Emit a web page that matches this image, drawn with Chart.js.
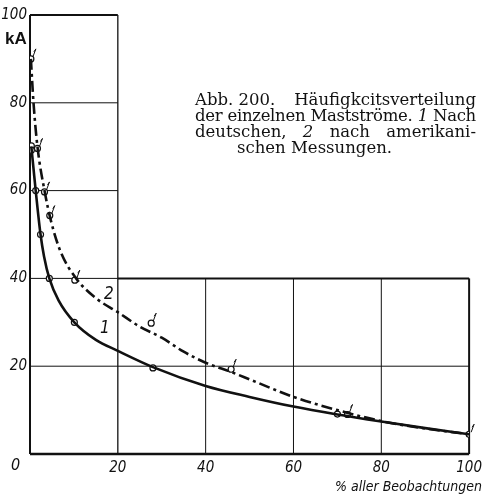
<!DOCTYPE html>
<html lang="de">
<head>
<meta charset="UTF-8">
<script src="https://cdn.jsdelivr.net/npm/chart.js"></script>
<style>
  body { margin:0; background:#fff; }
  #wrap { position:relative; width:487px; height:499px; }
  #wrap canvas { position:absolute; left:0; top:0; }
  .lbl { position:absolute; color:#111; white-space:nowrap; }
  .narrow { font-family:'Liberation Sans Narrow','DejaVu Sans Condensed','Liberation Sans',sans-serif; font-style:italic; }
  .cap { position:absolute; left:195px; width:281px; font:16.5px 'DejaVu Serif',serif; color:#111; line-height:16px; white-space:nowrap; }
  .row { display:flex; justify-content:space-between; }
</style>
</head>
<body>
<div id="wrap">
  <canvas id="c" width="487" height="499"></canvas>
  <div class="lbl" style="left:5px;top:29px;font:bold 17px 'Liberation Sans',sans-serif;">kA</div>
  <div class="lbl narrow" style="left:11px;top:455px;font-size:16px;">0</div>
  <div class="lbl narrow" style="left:100px;top:317px;font-size:17px;">1</div>
  <div class="lbl narrow" style="left:104px;top:283px;font-size:17px;">2</div>
  <div class="lbl narrow" style="right:5px;top:478px;font-size:14px;">% aller Beobachtungen</div>
  <div class="cap row" style="top:92px;"><span>Abb. 200.</span><span>Häufigkcitsverteilung</span></div>
  <div class="cap row" style="top:108px;letter-spacing:-0.3px;"><span>der</span><span>einzelnen</span><span>Mastströme.</span><span><i>1</i></span><span>Nach</span></div>
  <div class="cap row" style="top:124px;"><span>deutschen,</span><span><i>2</i></span><span>nach</span><span>amerikani-</span></div>
  <div class="cap" style="top:140px;left:237px;width:auto;">schen Messungen.</div>
</div>
<script>
// Kurve 1 (deutsche Messungen), ausgeglichene Linie
const c1LineX = [0.3, 0.8, 1.3, 2.4, 3.2, 4.4, 6.5, 10.1, 15, 20, 28, 40, 50, 60, 70, 80, 90, 100];
const c1LineY = [70, 65, 60, 50, 45, 40, 35, 30, 26, 23.5, 19.8, 15.5, 13, 10.8, 9.0, 7.4, 5.9, 4.5];
// Kurve 2 (amerikanische Messungen), ausgeglichene Linie
const c2LineX = [0.2, 0.8, 1.7, 3.3, 4.8, 7, 10.5, 15, 20, 25, 30, 35, 40, 46, 50, 60, 70, 80, 90, 100];
const c2LineY = [90, 80, 70, 60, 53, 46, 40, 35.5, 32.3, 29, 26.5, 23.3, 20.8, 18.6, 17, 13, 10, 7.5, 5.8, 4.5];
// Messpunkte
const c1PtsX = [0.3, 0.3, 1.3, 2.4, 4.4, 10.1, 28, 70];
const c1PtsY = [70.2, 69.2, 60, 50, 40, 30, 19.6, 9.1];
const c2PtsX = [0.2, 1.7, 3.3, 4.5, 10.2, 27.6, 45.8, 72.3, 100];
const c2PtsY = [90, 69.6, 59.7, 54.3, 39.6, 29.8, 19.3, 9.0, 4.5];
// Achsen
const xTicks = [20, 40, 60, 80, 100];
const yTicks = [20, 40, 60, 80, 100];

const pts = (xs, ys) => xs.map((x, i) => ({ x, y: ys[i] }));
const tickFont = { family:"'Liberation Sans Narrow','DejaVu Sans Condensed',sans-serif", size:15, style:'italic' };

// L-förmiges Netz zeichnen
const gridPlugin = {
  id: 'lgrid',
  beforeDatasetsDraw(chart) {
    const { ctx, scales: { x, y } } = chart;
    const seg = (x1, y1, x2, y2, w) => {
      ctx.beginPath();
      ctx.lineWidth = w;
      ctx.moveTo(x.getPixelForValue(x1), y.getPixelForValue(y1));
      ctx.lineTo(x.getPixelForValue(x2), y.getPixelForValue(y2));
      ctx.stroke();
    };
    ctx.save();
    ctx.strokeStyle = '#111';
    seg(0, 80, 20, 80, 1);
    seg(0, 60, 20, 60, 1);
    seg(0, 20, 100, 20, 1);
    seg(0, 40, 20, 40, 1);
    seg(20, 40, 100, 40, 2);
    seg(20, 0, 20, 100, 1.3);
    [40, 60, 80].forEach(v => seg(v, 0, v, 40, 1));
    seg(100, 0, 100, 40, 2);
    seg(0, 100, 20, 100, 2);
    seg(0, 0, 0, 100, 2);
    seg(0, 0, 100, 0, 2.5);
    ctx.restore();
  },
  afterDatasetsDraw(chart) {
    // kleine Fähnchen an den Punkten von Kurve 2
    const { ctx } = chart;
    const meta = chart.getDatasetMeta(3);
    ctx.save();
    ctx.strokeStyle = '#111';
    ctx.lineWidth = 1;
    meta.data.forEach(p => {
      ctx.beginPath();
      ctx.moveTo(p.x + 2, p.y - 2);
      ctx.lineTo(p.x + 5, p.y - 10);
      ctx.lineTo(p.x + 3, p.y - 7);
      ctx.stroke();
    });
    ctx.restore();
  }
};

new Chart(document.getElementById('c'), {
  type: 'scatter',
  data: {
    datasets: [
      { data: pts(c1LineX, c1LineY), showLine: true, borderColor:'#111', borderWidth:2.6,
        pointRadius:0, cubicInterpolationMode:'monotone' },
      { data: pts(c2LineX, c2LineY), showLine: true, borderColor:'#111', borderWidth:2.6,
        borderDash:[11, 4, 3, 4], pointRadius:0, cubicInterpolationMode:'monotone' },
      { data: pts(c1PtsX, c1PtsY), showLine:false, pointRadius:3, pointBackgroundColor:'#fff',
        pointBorderColor:'#111', pointBorderWidth:1.2 },
      { data: pts(c2PtsX, c2PtsY), showLine:false, pointRadius:3, pointBackgroundColor:'#fff',
        pointBorderColor:'#111', pointBorderWidth:1.2 }
    ]
  },
  options: {
    responsive: false,
    devicePixelRatio: 1,
    animation: false,
    layout: { padding: { top: 15, right: 13, left: 0, bottom: 0 } },
    plugins: { legend: { display:false }, tooltip: { enabled:false } },
    scales: {
      x: {
        type: 'linear', min: 0, max: 100,
        grid: { display:false, drawTicks:false }, border: { display:false },
        afterFit: s => { s.height = 45; },
        afterBuildTicks: s => { s.ticks = xTicks.map(v => ({ value: v })); },
        ticks: { color:'#111', font: tickFont, padding: 5, maxRotation: 0 }
      },
      y: {
        type: 'linear', min: 0, max: 100,
        grid: { display:false, drawTicks:false }, border: { display:false },
        afterFit: s => { s.width = 30; },
        afterBuildTicks: s => { s.ticks = yTicks.map(v => ({ value: v })); },
        ticks: { color:'#111', font: tickFont, padding: 3 }
      }
    }
  },
  plugins: [gridPlugin]
});
</script>
</body>
</html>
